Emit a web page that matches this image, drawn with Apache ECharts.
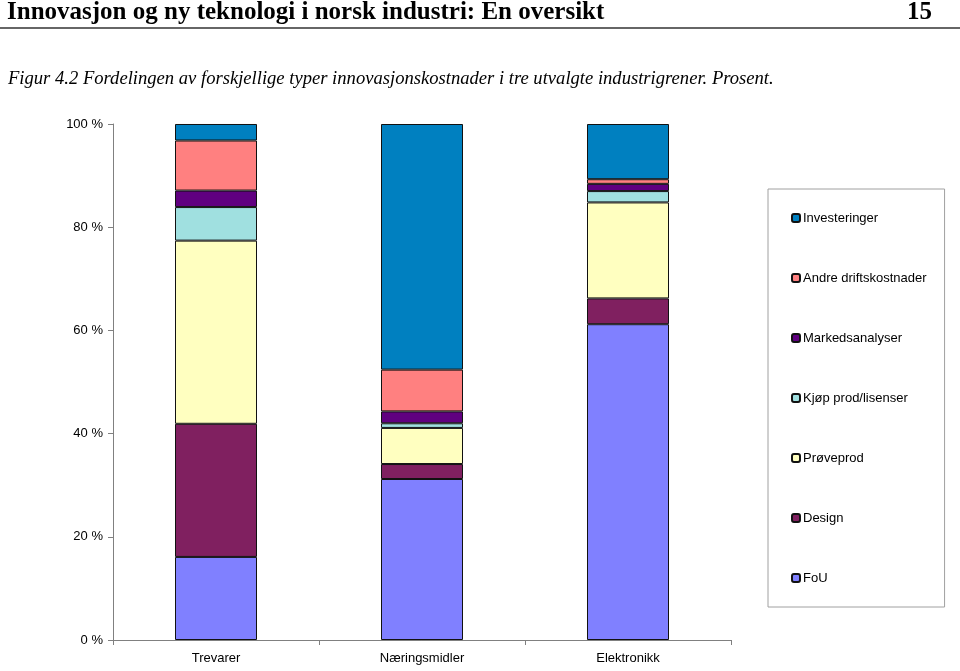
<!DOCTYPE html>
<html>
<head>
<meta charset="utf-8">
<script src="https://cdn.jsdelivr.net/npm/echarts@6/dist/echarts.min.js"></script>
<style>
  html, body { margin: 0; padding: 0; background: #fff; }
  #main { width: 960px; height: 671px; }
</style>
</head>
<body>
<div id="main"></div>
<script>
// kategorier og verdier (prosent), lest av figuren
var categories = ['Trevarer', 'Næringsmidler', 'Elektronikk'];
var seriesNames = ['FoU', 'Design', 'Prøveprod', 'Kjøp prod/lisenser', 'Markedsanalyser', 'Andre driftskostnader', 'Investeringer'];
var fou        = [16.1, 31.2, 61.2];
var design     = [25.8, 2.9, 5.0];
var proveprod  = [35.5, 7.0, 18.6];
var kjop       = [6.5, 0.9, 2.2];
var marked     = [3.2, 2.3, 1.4];
var andre      = [9.7, 8.1, 0.9];
var invest     = [3.2, 47.6, 10.7];
var yTicks     = [0, 20, 40, 60, 80, 100];

var values = [fou, design, proveprod, kjop, marked, andre, invest];
var colors = ['#8080FF', '#802060', '#FFFFC0', '#A0E0E0', '#600080', '#FF8080', '#0080C0'];

var myChart = echarts.init(document.getElementById('main'));

var series = seriesNames.map(function (name, i) {
  return {
    name: name,
    type: 'bar',
    stack: 'total',
    barWidth: 82,
    data: values[i],
    itemStyle: { color: colors[i], borderColor: '#111', borderWidth: 1 }
  };
});

var option = {
  animation: false,
  backgroundColor: '#fff',
  graphic: [
    { type: 'text', left: 7, top: 0,
      style: { text: 'Innovasjon og ny teknologi i norsk industri: En oversikt', font: 'bold 25px "Liberation Serif"', fill: '#000' } },
    { type: 'text', left: 907, top: 0,
      style: { text: '15', font: 'bold 25px "Liberation Serif"', fill: '#000' } },
    { type: 'line', shape: { x1: 0, y1: 28, x2: 960, y2: 28 }, style: { stroke: '#333', lineWidth: 1.5 } },
    { type: 'text', left: 8, top: 70,
      style: { text: 'Figur 4.2 Fordelingen av forskjellige typer innovasjonskostnader i tre utvalgte industrigrener. Prosent.',
               font: 'italic 18.6px "Liberation Serif"', fill: '#000' } }
  ],
  grid: { left: 113, right: 229, top: 124, bottom: 31, containLabel: false },
  legend: {
    orient: 'vertical',
    left: 768,
    top: 189,
    data: seriesNames.slice().reverse(),
    itemWidth: 8,
    itemHeight: 8,
    itemGap: 44,
    padding: [21, 18, 21, 23],
    borderColor: '#a0a0a0',
    borderWidth: 1,
    textStyle: { fontFamily: 'Liberation Sans', fontSize: 13, color: '#000', lineHeight: 16, padding: [0, 0, 0, -2] }
  },
  xAxis: {
    type: 'category',
    data: categories,
    axisLine: { lineStyle: { color: '#808080' } },
    axisTick: { show: true, length: 5, lineStyle: { color: '#808080' } },
    axisLabel: { color: '#000', fontFamily: 'Liberation Sans', fontSize: 13, margin: 12 }
  },
  yAxis: {
    type: 'value',
    min: yTicks[0],
    max: yTicks[yTicks.length - 1],
    interval: 20,
    axisLine: { show: true, lineStyle: { color: '#808080' } },
    axisTick: { show: true, length: 5, lineStyle: { color: '#808080' } },
    splitLine: { show: false },
    axisLabel: { color: '#000', fontFamily: 'Liberation Sans', fontSize: 13, margin: 10, formatter: '{value} %' }
  },
  series: series
};

myChart.setOption(option);
window.onresize = myChart.resize;
</script>
</body>
</html>
